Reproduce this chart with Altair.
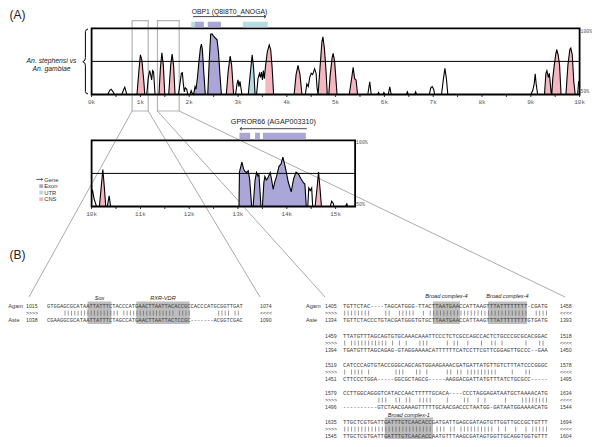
import altair as alt
import pandas as pd

# ---------------- values ----------------
# VISTA conservation curves: (position in kb, % identity)
top_curve = [
    (0.00, 50), (0.33, 50), (0.37, 53), (0.40, 54), (0.44, 52), (0.47, 50),
    (0.62, 50), (0.66, 54), (0.68, 55.5), (0.70, 53), (0.72, 50),
    (0.93, 50), (0.97, 68), (1.00, 80), (1.03, 76), (1.07, 60), (1.09, 50),
    (1.13, 50), (1.16, 62), (1.19, 68), (1.21, 65), (1.23, 61), (1.25, 68), (1.27, 67), (1.30, 50),
    (1.38, 50), (1.41, 70), (1.44, 81.5), (1.47, 72), (1.50, 50),
    (1.58, 50), (1.62, 72), (1.65, 80.5), (1.68, 72), (1.71, 50),
    (1.78, 50), (1.81, 58), (1.84, 66), (1.86, 66.5), (1.88, 58), (1.90, 52), (1.92, 55), (1.95, 54), (1.97, 50),
    (2.02, 50), (2.04, 53), (2.06, 51),
    (2.09, 50), (2.12, 56), (2.14, 54), (2.17, 63), (2.20, 75), (2.23, 85), (2.25, 88), (2.27, 84), (2.30, 66), (2.33, 50),
    (2.38, 50), (2.41, 75), (2.44, 95.5), (2.47, 95.8), (2.50, 94), (2.54, 92.5), (2.57, 91.5), (2.60, 82), (2.63, 65), (2.66, 50),
    (2.76, 50), (2.80, 68), (2.84, 79), (2.87, 72), (2.91, 50),
    (2.95, 50), (2.98, 58), (3.00, 61), (3.02, 56), (3.04, 60), (3.06, 55), (3.08, 50),
    (3.21, 50), (3.25, 65), (3.29, 80), (3.32, 70), (3.35, 50),
    (3.38, 50), (3.41, 62), (3.44, 66), (3.46, 63), (3.48, 67), (3.50, 61), (3.52, 68), (3.54, 62),
    (3.56, 70), (3.60, 82), (3.64, 87.5), (3.67, 84), (3.70, 70), (3.73, 50),
    (4.15, 50), (4.19, 65), (4.23, 72), (4.27, 65), (4.31, 50),
    (4.38, 50), (4.41, 58), (4.44, 56), (4.47, 63), (4.50, 66), (4.53, 65), (4.57, 69.5), (4.60, 66), (4.62, 55),
    (4.64, 50), (4.68, 70), (4.72, 90), (4.74, 93.5), (4.77, 85), (4.80, 70), (4.83, 50),
    (4.86, 50), (4.89, 65), (4.93, 78), (4.95, 81), (4.98, 75), (5.01, 60), (5.03, 50),
    (5.28, 50), (5.32, 60), (5.36, 70.5), (5.39, 62), (5.42, 61), (5.45, 50),
    (5.66, 50), (5.70, 59.5), (5.73, 50),
    (5.86, 50), (5.88, 51.5), (5.90, 50), (5.97, 50), (5.99, 51.5), (6.01, 50),
    (6.08, 50), (6.11, 55.8), (6.14, 50),
    (6.45, 50), (6.47, 52), (6.49, 50), (6.62, 50), (6.64, 52), (6.66, 50),
    (6.92, 50), (6.95, 55), (6.98, 56), (7.01, 54), (7.03, 50),
    (7.17, 50), (7.21, 62), (7.24, 69.7), (7.27, 62), (7.30, 50),
    (9.00, 50), (9.04, 53), (9.07, 58), (9.09, 65.7), (9.11, 58), (9.14, 50),
    (9.28, 50), (9.31, 66), (9.33, 68), (9.36, 63), (9.38, 66), (9.40, 58), (9.42, 50),
    (9.43, 50), (9.45, 62), (9.48, 72), (9.51, 80), (9.53, 84), (9.56, 80), (9.59, 72), (9.62, 50),
    (9.72, 50), (9.76, 72), (9.80, 84), (9.82, 85), (9.85, 80), (9.88, 60), (9.91, 50),
    (9.96, 50), (9.98, 60), (10.0, 58),
]
top_exon = [(2.09, 2.33), (2.38, 2.66)]
top_utr = [(3.21, 3.35)]
top_cns = [(0.93, 1.09), (1.38, 1.50), (1.58, 1.71), (2.76, 2.91), (3.56, 3.73), (4.15, 4.31),
           (4.64, 4.83), (4.86, 5.03), (5.28, 5.45), (9.28, 9.42), (9.43, 9.62), (9.72, 9.91)]

bot_curve = [
    (10.00, 60), (10.02, 62), (10.05, 56), (10.10, 50),
    (10.16, 50), (10.19, 62), (10.23, 78), (10.26, 65), (10.29, 50),
    (10.32, 50), (10.36, 58), (10.39, 50),
    (13.02, 50), (13.03, 76), (13.08, 83.6), (13.11, 79), (13.13, 77), (13.16, 76), (13.18, 75.7),
    (13.21, 77), (13.24, 70), (13.28, 50),
    (13.31, 50), (13.35, 70), (13.38, 75.7), (13.41, 73), (13.43, 74), (13.47, 50),
    (13.50, 50), (13.53, 68), (13.55, 72.7), (13.58, 70), (13.61, 71.4), (13.64, 74), (13.66, 75.7),
    (13.69, 70), (13.72, 63), (13.75, 68), (13.79, 72.7), (13.84, 80.3), (13.88, 82), (13.92, 87.3),
    (13.97, 79.5), (14.03, 68.5), (14.09, 61), (14.14, 71), (14.19, 76), (14.24, 74.4), (14.29, 71),
    (14.34, 68), (14.37, 67), (14.40, 50),
    (14.43, 50), (14.45, 64), (14.48, 62), (14.51, 64), (14.53, 50),
    (14.58, 50), (14.62, 64), (14.65, 76), (14.68, 64), (14.71, 50),
    (14.89, 50), (14.92, 54), (14.95, 52.5), (14.97, 50),
    (15.20, 50), (15.23, 52), (15.25, 50), (15.40, 50),
]
bot_exon = [(13.02, 13.28), (13.31, 13.47), (13.50, 14.40)]
bot_utr = [(10.32, 10.39)]
bot_cns = [(10.16, 10.29), (14.58, 14.71)]

top_ticks = [i * 0.5 for i in range(21)]
top_tick_labels = ["0k", "1k", "2k", "3k", "4k", "5k", "6k", "7k", "8k", "9k", "10k"]
bot_ticks = [10 + i * 0.5 for i in range(11)]
bot_tick_labels = ["10k", "11k", "12k", "13k", "14k", "15k"]

# gene annotations (kb)
top_gene_name = "OBP1 (Q8I8T0_ANOGA)"
top_gene_arrow = (2.08, 3.57)
top_gene_parts = [("UTR", 2.04, 2.12), ("Exon", 2.12, 2.30), ("Exon", 2.38, 2.65), ("UTR", 3.10, 3.61)]
bot_gene_name = "GPROR66 (AGAP003310)"
bot_gene_arrow = (14.41, 13.04)
bot_gene_parts = [("Exon", 13.03, 13.25), ("Exon", 13.35, 13.45), ("Exon", 13.51, 14.39)]
zoom_boxes_kb = [(0.83, 1.16), (1.35, 1.795)]

legend_items = ["Exon", "UTR", "CNS"]
species = ["An. stephensi vs", "An. gambiae"]

# alignments (B)
left_rows = [
    ("Agam", "1015", "GTGGAGCGCATA" "ATTATTT" "CTACCCA" "TGAACTTAATTACAC" "CGCCACCCATGCGGTTGAT", "1074"),
    ("Aste", "1038", "CGAAGGCGCATA" "ATTATTT" "CTAGCCA" "TGAACTTAATTACTC" "CGC" "-------" "ACGGTCGAC", "1090"),
]
left_sites = [(12.4, 19.7, "Sox"), (27.3, 43.6, "RXR-VDR")]

right_groups = [
    ("1405", "TGTTCTAC" "----" "TAGCATGGG" "-" "TTACTT" "AATGAACCATT" "AAGT" "TTATTTTTTTT" "-CGATG", "1458",
     "1334", "TGTTCTACCCTGTACGATGGGTGTGCTT" "AATGAACCATT" "AAGT" "TTATTTTTTTT" "GTGATG", "1393"),
    ("1459", "TTATGTTTAG" "CAGTGTGCAA" "ACAAATTCCC" "TCTCGCCAGC" "CACTCTGCCC" "GCGCACGGAC", "1518",
     "1394", "TGATGTTTAG" "CAGAG-GTAG" "GAAAACATTT" "TTTCATCCTT" "CGTTCGGAGT" "TGCCC--GAA", "1450"),
    ("1519", "CATCCCAGTG" "TACCGGGCAG" "CAGTGGAAGA" "AACGATGATT" "ATGTTGTCTT" "TATCCCGGGC", "1578",
     "1451", "CTTCCCTGGA" "-----GGCGC" "TAGCG-----" "AAGGACGATT" "ATGTTTATCT" "GCGCC-----", "1495"),
    ("1579", "CCTTGGCAGG" "GTCATACCAA" "CTTTTTGCAC" "A----CCCTA" "GGAGATAATG" "CTAAAACATG", "1634",
     "1496", "----------" "GTCTAACGAA" "AGTTTTTGCA" "ACGACCCTAA" "TGG-GATAAT" "GGAAAACATG", "1544"),
    ("1635", "TTGCTCGTGA" "TTGATTTGTC" "AACACCGATG" "ATTGAGCGAT" "AGTGTTGGTT" "GCCGCTGTTT", "1694",
     "1545", "TTGCTCGTGA" "TTGATTTGTC" "AACACCAATG" "TTTAAGCGAT" "AGTGGTTGCA" "GGTGGTGTTT", "1604"),
]
right_sites = [(0, 26.3, 34.2, "Broad complex-4"), (0, 42.4, 53.8, "Broad complex-4"),
               (4, 12.2, 26.3, "Broad complex-1")]

# ---------------- layout (pixels of the 600x447 page) ----------------
OFF = 8


def S(d0, d1, r0, r1):
    return alt.Scale(domain=[d0, d1], range=[r0 - OFF, r1 - OFF], nice=False, zero=False)


FX = S(0, 600, 0, 600)
FY = S(0, 447, 0, 447)
X0, PPK = 91.6, 48.8
TX = S(0, 10, X0, X0 + 10 * PPK)
TY = S(50, 100, 94.5, 28.3)
BX = S(10, 15, X0, X0 + 5 * PPK)
BY = S(50, 100, 206.5, 140.3)
KIND = alt.Scale(domain=["Exon", "UTR", "CNS"], range=["#aaa7d8", "#b6dde2", "#f4b6bf"])

MONO = "Liberation Mono"
SANS = "Liberation Sans"
TXT = "#3a3a3a"


def enc(xs, ys, xf="x", yf="y"):
    return dict(x=alt.X(f"{xf}:Q", scale=xs, axis=None), y=alt.Y(f"{yf}:Q", scale=ys, axis=None))


layers = []


def text_layer(rows, xs, ys, **mark):
    df = pd.DataFrame(rows, columns=["x", "y", "t"])
    return alt.Chart(df).mark_text(**mark).encode(**enc(xs, ys), text="t:N")


# ----- zoom boxes and connector lines (behind) -----
zb = pd.DataFrame([{"a": a, "b": b, "y0": 20.7, "y1": 111} for a, b in zoom_boxes_kb])
layers.append(alt.Chart(zb).mark_rect(fill="white", fillOpacity=0, stroke="#b4b4b4", strokeWidth=1.2).encode(
    x=alt.X("a:Q", scale=TX, axis=None), x2="b:Q", y=alt.Y("y0:Q", scale=FY, axis=None), y2="y1:Q"))
conn_ends = [(29, 297), (260, 297), (325, 297), (565, 297)]
conn = []
for i, (a, b) in enumerate(zoom_boxes_kb):
    for j, kb in enumerate((a, b)):
        ex, ey = conn_ends[2 * i + j]
        conn.append({"kb": kb, "y": 111, "ex": ex, "ey": ey})
cdf = pd.DataFrame(conn)
cdf["sx"] = X0 + cdf["kb"] * PPK
layers.append(alt.Chart(cdf).mark_rule(color="#8f8f8f", strokeWidth=0.75).encode(
    x=alt.X("sx:Q", scale=FX, axis=None), y=alt.Y("y:Q", scale=FY, axis=None), x2="ex:Q", y2="ey:Q"))


# ----- VISTA panels -----
def vista(curve, exon, utr, cns, XS, YS, kb0, kb1, ticks, labels, base_y, label_y, pct_dy):
    out = []
    rows = []
    for kind, regs in (("Exon", exon), ("UTR", utr), ("CNS", cns)):
        for i, (a, b) in enumerate(regs):
            for kb, p in curve:
                if a - 1e-9 <= kb <= b + 1e-9:
                    rows.append({"kb": kb, "pct": p, "base": 50, "seg": f"{kind}{i}", "kind": kind})
    out.append(alt.Chart(pd.DataFrame(rows)).mark_area(interpolate="linear").encode(
        x=alt.X("kb:Q", scale=XS, axis=None),
        y=alt.Y("pct:Q", scale=YS, axis=None, stack=None),
        y2="base:Q",
        color=alt.Color("kind:N", scale=KIND, legend=None),
        detail="seg:N"))
    out.append(alt.Chart(pd.DataFrame(curve, columns=["kb", "pct"])).mark_line(
        color="black", strokeWidth=1.1).encode(
        x=alt.X("kb:Q", scale=XS, axis=None), y=alt.Y("pct:Q", scale=YS, axis=None)))
    fr = pd.DataFrame([{"a": kb0, "b": kb1, "lo": 50, "hi": 100, "mid": 75}])
    out.append(alt.Chart(fr).mark_rule(color="black", strokeWidth=1).encode(
        x=alt.X("a:Q", scale=XS, axis=None), x2="b:Q", y=alt.Y("mid:Q", scale=YS, axis=None)))
    out.append(alt.Chart(fr).mark_rect(fill="white", fillOpacity=0, stroke="black", strokeWidth=1.8).encode(
        x=alt.X("a:Q", scale=XS, axis=None), x2="b:Q", y=alt.Y("hi:Q", scale=YS, axis=None), y2="lo:Q"))
    tk = pd.DataFrame({"kb": ticks, "y": base_y, "y2": base_y + 2.5})
    out.append(alt.Chart(tk).mark_rule(color="black", strokeWidth=0.8).encode(
        x=alt.X("kb:Q", scale=XS, axis=None), y=alt.Y("y:Q", scale=FY, axis=None), y2="y2:Q"))
    lb = pd.DataFrame({"kb": [kb0 + i for i in range(len(labels))], "y": label_y, "t": labels})
    out.append(alt.Chart(lb).mark_text(font=MONO, fontSize=6, color="#555").encode(
        x=alt.X("kb:Q", scale=XS, axis=None), y=alt.Y("y:Q", scale=FY, axis=None), text="t:N"))
    for val, t, dy in ((100, "100%", pct_dy[0]), (50, "50%", pct_dy[1])):
        pdf = pd.DataFrame([{"kb": kb1, "pct": val, "t": t}])
        out.append(alt.Chart(pdf).mark_text(font=MONO, fontSize=4.8, color="#555", align="left",
                                            dx=1, dy=dy).encode(
            x=alt.X("kb:Q", scale=XS, axis=None), y=alt.Y("pct:Q", scale=YS, axis=None), text="t:N"))
    return out


layers += vista(top_curve, top_exon, top_utr, top_cns, TX, TY, 0, 10.0, top_ticks, top_tick_labels,
                94.5, 101.5, (3.4, -2.2))
layers += vista(bot_curve, bot_exon, bot_utr, bot_cns, BX, BY, 10, 15.4, bot_ticks, bot_tick_labels,
                206.5, 214, (3.0, -1.5))


# ----- gene annotations -----
def gene(name, arrow, parts, XS, text_y, arrow_y, box_y0, box_y1, head, fs):
    out = []
    ar = pd.DataFrame([{"a": arrow[0], "b": arrow[1], "y": arrow_y}])
    out.append(alt.Chart(ar).mark_rule(color="#333", strokeWidth=0.9).encode(
        x=alt.X("a:Q", scale=XS, axis=None), x2="b:Q", y=alt.Y("y:Q", scale=FY, axis=None)))
    out.append(alt.Chart(ar).mark_point(shape=head, filled=False, stroke="#333", strokeWidth=0.9, size=14,
                                        opacity=1).encode(
        x=alt.X("b:Q", scale=XS, axis=None), y=alt.Y("y:Q", scale=FY, axis=None)))
    pr = pd.DataFrame([{"kind": k, "a": a, "b": b, "y0": box_y0, "y1": box_y1} for k, a, b in parts])
    out.append(alt.Chart(pr).mark_rect().encode(
        x=alt.X("a:Q", scale=XS, axis=None), x2="b:Q", y=alt.Y("y0:Q", scale=FY, axis=None), y2="y1:Q",
        color=alt.Color("kind:N", scale=KIND, legend=None)))
    nm = pd.DataFrame([{"kb": (arrow[0] + arrow[1]) / 2, "y": text_y, "t": name}])
    out.append(alt.Chart(nm).mark_text(font=SANS, fontSize=fs, color="#222").encode(
        x=alt.X("kb:Q", scale=XS, axis=None), y=alt.Y("y:Q", scale=FY, axis=None), text="t:N"))
    return out


RIGHT_HEAD = "M -1 -0.8 L 0 0 L -1 0.8"
LEFT_HEAD = "M 1 -0.8 L 0 0 L 1 0.8"
layers += gene(top_gene_name, top_gene_arrow, top_gene_parts, TX, 11.6, 16.6, 21.7, 27.3, RIGHT_HEAD, 6.8)
layers += gene(bot_gene_name, bot_gene_arrow, bot_gene_parts, BX, 122, 128.7, 132.7, 139.3, LEFT_HEAD, 7.2)

# ----- species label with brace -----
layers.append(text_layer([(51.5, 61, species[0]), (51.5, 68.5, species[1])], FX, FY,
                         font=SANS, fontSize=6.8, fontStyle="italic", color="#222"))
brace_path = [(88, 29), (86.2, 29.8), (85.4, 31.6), (85.4, 57.6), (84.9, 60.3), (82.8, 61.7),
              (84.9, 63.1), (85.4, 65.8), (85.4, 91.4), (86.2, 93.2), (88, 94)]
bdf = pd.DataFrame([{"x": x, "y": y, "i": i} for i, (x, y) in enumerate(brace_path)])
layers.append(alt.Chart(bdf).mark_line(color="black", strokeWidth=1).encode(**enc(FX, FY), order="i:Q"))

# ----- panel letters -----
layers.append(text_layer([(9.5, 14.5, "(A)"), (9.5, 254.5, "(B)")], FX, FY,
                         font=SANS, fontSize=12, align="left", color="#222"))

# ----- legend -----
gl = pd.DataFrame([{"x": 36.3, "x2": 42.6, "y": 179.4}])
layers.append(alt.Chart(gl).mark_rule(color="#333", strokeWidth=0.8).encode(**enc(FX, FY), x2="x2:Q"))
layers.append(alt.Chart(gl).mark_point(shape=RIGHT_HEAD, filled=False, stroke="#333", strokeWidth=0.8,
                                       size=6, opacity=1).encode(
    x=alt.X("x2:Q", scale=FX, axis=None), y=alt.Y("y:Q", scale=FY, axis=None)))
lg = pd.DataFrame([{"kind": k, "x": 39.3, "x2": 43.2, "y": 184.2 + 6.5 * i, "y2": 187.9 + 6.5 * i}
                   for i, k in enumerate(legend_items)])
layers.append(alt.Chart(lg).mark_rect().encode(**enc(FX, FY), x2="x2:Q", y2="y2:Q",
                                               color=alt.Color("kind:N", scale=KIND, legend=None)))
layers.append(text_layer([(44.2, 179.6, "Gene")] + [(44.2, 186.2 + 6.5 * i, k) for i, k in enumerate(legend_items)],
                         FX, FY, font=SANS, fontSize=5.8, align="left", color="#333"))


# ----- alignment blocks -----
def block(groups, sites, name_x, num_x, seq_x, end_x, pitch, group_y, site_y, names):
    out = []
    fs = pitch / 0.6
    CX = S(0, 60, seq_x, seq_x + 60 * pitch)
    hl = []
    for g, a, b, lab in sites:
        y0 = group_y[g]
        hl.append({"a": a, "b": b, "y0": y0 - 4.5, "y1": y0 + 18, "c": (a + b) / 2, "ly": site_y[g], "t": lab})
    hdf = pd.DataFrame(hl)
    out.append(alt.Chart(hdf).mark_rect(color="#bdbdbd").encode(
        x=alt.X("a:Q", scale=CX, axis=None), x2="b:Q", y=alt.Y("y0:Q", scale=FY, axis=None), y2="y1:Q"))
    seq_rows, side_rows, bars = [], [], []
    for g, (n1, s1, e1, n2, s2, e2) in enumerate(groups):
        y0 = group_y[g]
        seq_rows += [(0, y0, s1), (0, y0 + 14, s2)]
        for c, (p, q) in enumerate(zip(s1, s2)):
            if p == q and p != "-":
                bars.append({"c": c + 0.5, "y": y0 + 4.6, "y2": y0 + 9.6})
        side_rows += [(num_x, y0, n1), (num_x, y0 + 7, ">>>>"), (num_x, y0 + 14, n2),
                      (end_x, y0, e1), (end_x, y0 + 7, "<<<<"), (end_x, y0 + 14, e2)]
        if g == 0:
            out.append(text_layer([(name_x, y0, names[0]), (name_x, y0 + 14, names[1])], FX, FY,
                                  font=SANS, fontSize=5.6, align="left", color=TXT))
    out.append(alt.Chart(pd.DataFrame(bars)).mark_rule(color="#555", strokeWidth=0.6).encode(
        x=alt.X("c:Q", scale=CX, axis=None), y=alt.Y("y:Q", scale=FY, axis=None), y2="y2:Q"))
    out.append(text_layer(seq_rows, CX, FY, font=MONO, fontSize=fs, align="left", color=TXT))
    out.append(text_layer(side_rows, FX, FY, font=SANS, fontSize=5.2, align="left", color=TXT))
    out.append(alt.Chart(hdf).mark_text(font=SANS, fontSize=5.6, fontStyle="italic", color="#222").encode(
        x=alt.X("c:Q", scale=CX, axis=None), y=alt.Y("ly:Q", scale=FY, axis=None), text="t:N"))
    return out


lgroups = [(left_rows[0][1], left_rows[0][2], left_rows[0][3], left_rows[1][1], left_rows[1][2], left_rows[1][3])]
layers += block(lgroups, [(0, a, b, t) for a, b, t in left_sites], 8.3, 26, 47, 260, 3.27,
                [306], [297.5], (left_rows[0][0], left_rows[1][0]))
layers += block(right_groups, right_sites, 306, 325, 343, 560, 3.42,
                [306, 336, 365, 393, 422], [295.5, 0, 0, 0, 414.6], ("Agam", "Aste"))

chart = alt.layer(*layers).resolve_scale(x="independent", y="independent").properties(
    width=584, height=431, autosize="none", padding=0
).configure_view(stroke=None)

chart.save("out.html", embed_options={"renderer": "svg", "actions": False})
